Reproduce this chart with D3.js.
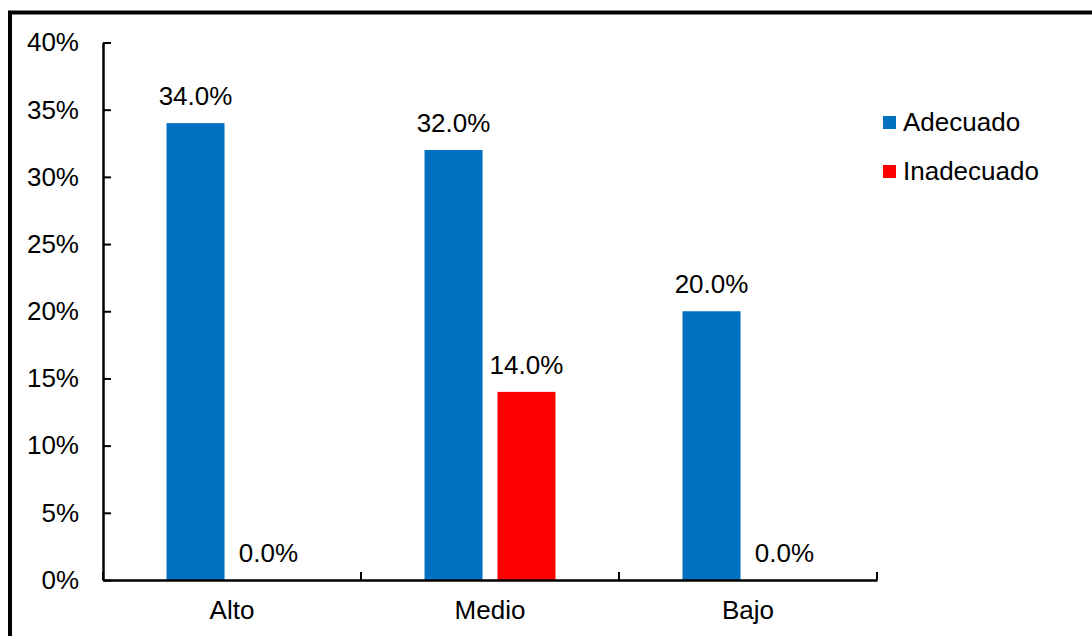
<!DOCTYPE html>
<html>
<head>
<meta charset="utf-8">
<script src="https://cdn.jsdelivr.net/npm/d3@7"></script>
<style>
  html, body { margin: 0; padding: 0; background: #fff; }
  svg { display: block; }
  text { font-family: "Liberation Sans", Arial, sans-serif; fill: #000; }
</style>
</head>
<body>
<svg id="chart" width="1092" height="636"></svg>
<script>
// Nivel categories and the share of each group per series
const categories = ["Alto", "Medio", "Bajo"];
const seriesNames = ["Adecuado", "Inadecuado"];
const adecuado = [34.0, 32.0, 20.0];
const inadecuado = [0.0, 14.0, 0.0];
const yTicks = [0, 5, 10, 15, 20, 25, 30, 35, 40];
const colors = ["#0070C0", "#FF0000"];

const values = [adecuado, inadecuado];

const svg = d3.select("#chart");
const fontSize = 26;

// Outer frame (runs off the right and bottom edges)
svg.append("rect")
  .attr("x", 10).attr("y", 12.5)
  .attr("width", 1200).attr("height", 700)
  .attr("fill", "none").attr("stroke", "#000").attr("stroke-width", 4);

const plot = { left: 103, right: 877, top: 42.5, bottom: 580 };

const x = d3.scaleBand().domain(categories).range([plot.left, plot.right]).padding(0);
const y = d3.scaleLinear().domain([0, 40]).range([plot.bottom, plot.top]);

const bw = x.bandwidth();
const barW = bw * 0.2248;
const barGap = bw * 0.058;
const groupW = barW * seriesNames.length + barGap * (seriesNames.length - 1);

const barX = (ci, si) => x(categories[ci]) + (bw - groupW) / 2 + si * (barW + barGap);

// Bars
seriesNames.forEach((name, si) => {
  svg.append("g").selectAll("rect")
    .data(values[si])
    .join("rect")
    .attr("x", (d, ci) => barX(ci, si))
    .attr("y", d => y(d))
    .attr("width", barW)
    .attr("height", d => y(0) - y(d))
    .attr("fill", colors[si]);

  // Value labels
  svg.append("g").selectAll("text")
    .data(values[si])
    .join("text")
    .attr("x", (d, ci) => barX(ci, si) + barW / 2)
    .attr("y", d => y(d) - 18)
    .attr("text-anchor", "middle")
    .style("font-size", fontSize + "px")
    .text(d => d.toFixed(1) + "%");
});

// Y axis
const yAxis = d3.axisLeft(y)
  .tickValues(yTicks)
  .tickFormat(d => d + "%")
  .tickSizeInner(-8)
  .tickSizeOuter(0)
  .tickPadding(24);

const yg = svg.append("g")
  .attr("transform", `translate(${plot.left},0)`)
  .call(yAxis);
yg.select(".domain").attr("stroke", "#000").attr("stroke-width", 2.5);
yg.selectAll(".tick line").attr("stroke", "#000").attr("stroke-width", 2);
yg.selectAll(".tick text")
  .style("font-size", fontSize + "px")
  .style("font-family", "'Liberation Sans', Arial, sans-serif")
  .attr("fill", "#000");

// X axis: labels at category centres, tick marks at category boundaries
const xAxis = d3.axisBottom(x).tickSize(0).tickSizeOuter(0);
const xg = svg.append("g")
  .attr("transform", `translate(0,${plot.bottom})`)
  .call(xAxis);
xg.select(".domain").attr("stroke", "#000").attr("stroke-width", 2.5);
xg.selectAll(".tick text")
  .attr("y", 39).attr("dy", 0)
  .style("font-size", fontSize + "px")
  .style("font-family", "'Liberation Sans', Arial, sans-serif")
  .attr("fill", "#000");

const boundaries = categories.map(c => x(c)).concat([x(categories[categories.length - 1]) + bw]);
xg.append("g").selectAll("line")
  .data(boundaries)
  .join("line")
  .attr("x1", d => d).attr("x2", d => d)
  .attr("y1", 0).attr("y2", -8)
  .attr("stroke", "#000").attr("stroke-width", 2);

// Legend
const legend = svg.append("g").attr("transform", "translate(883,116)");
seriesNames.forEach((name, i) => {
  const row = legend.append("g").attr("transform", `translate(0,${i * 49})`);
  row.append("rect").attr("x", 0).attr("y", 0).attr("width", 13).attr("height", 13).attr("fill", colors[i]);
  row.append("text").attr("x", 20).attr("y", 14.5)
    .style("font-size", fontSize + "px")
    .text(name);
});
</script>
</body>
</html>
